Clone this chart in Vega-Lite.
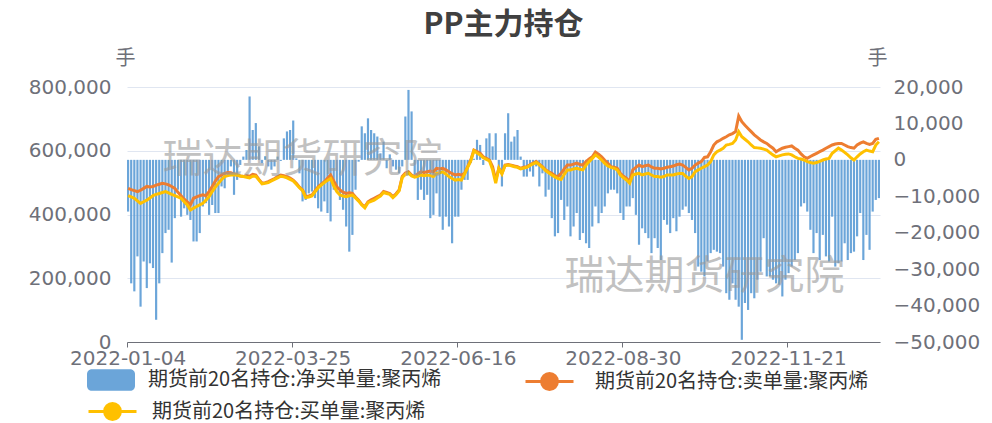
{
"$schema":"https://vega.github.io/schema/vega-lite/v6.json",
"width":753,"height":255,
"autosize":"none",
"padding":{"left":127,"top":87,"right":112,"bottom":81},
"background":"white",
"config":{"view":{"stroke":null},"font":"DejaVu Sans"},
"title":{"text":"PP主力持仓","font":"Noto Sans CJK SC","fontSize":30,"fontWeight":"bold","color":"#404040","anchor":"middle","frame":"group","offset":8},
"data":{"values":[
{"d":"2022-01-04","n":-14200,"s":482000,"b":459000},
{"d":"2022-01-05","n":-33900,"s":478000,"b":455000},
{"d":"2022-01-06","n":-36100,"s":475000,"b":451000},
{"d":"2022-01-07","n":-26500,"s":472000,"b":443000},
{"d":"2022-01-10","n":-40300,"s":476000,"b":435000},
{"d":"2022-01-11","n":-27900,"s":482000,"b":440000},
{"d":"2022-01-12","n":-35200,"s":488000,"b":445000},
{"d":"2022-01-13","n":-28400,"s":486000,"b":452000},
{"d":"2022-01-14","n":-29700,"s":488000,"b":459000},
{"d":"2022-01-17","n":-43900,"s":492000,"b":463000},
{"d":"2022-01-18","n":-33900,"s":495000,"b":466000},
{"d":"2022-01-19","n":-25600,"s":498000,"b":469000},
{"d":"2022-01-20","n":-20100,"s":496000,"b":472000},
{"d":"2022-01-21","n":-19200,"s":493000,"b":468000},
{"d":"2022-01-24","n":-28200,"s":488000,"b":463000},
{"d":"2022-01-25","n":-16000,"s":482000,"b":459000},
{"d":"2022-01-26","n":-8200,"s":470000,"b":455000},
{"d":"2022-01-27","n":-15600,"s":459000,"b":451000},
{"d":"2022-01-28","n":-13300,"s":448000,"b":440000},
{"d":"2022-02-07","n":-15100,"s":440000,"b":430000},
{"d":"2022-02-08","n":-16500,"s":430000,"b":414000},
{"d":"2022-02-09","n":-22400,"s":451000,"b":420000},
{"d":"2022-02-10","n":-22400,"s":455000,"b":425000},
{"d":"2022-02-11","n":-20100,"s":459000,"b":430000},
{"d":"2022-02-14","n":-12800,"s":462000,"b":435000},
{"d":"2022-02-15","n":-11900,"s":459000,"b":445000},
{"d":"2022-02-16","n":-15100,"s":472000,"b":456000},
{"d":"2022-02-17","n":-12400,"s":488000,"b":472000},
{"d":"2022-02-18","n":-14600,"s":505000,"b":486000},
{"d":"2022-02-21","n":-14600,"s":519000,"b":498000},
{"d":"2022-02-22","n":-7300,"s":524000,"b":510000},
{"d":"2022-02-23","n":-7800,"s":529000,"b":519000},
{"d":"2022-02-24","n":-4600,"s":532000,"b":522000},
{"d":"2022-02-25","n":-1800,"s":531000,"b":524000},
{"d":"2022-02-28","n":-9600,"s":527000,"b":525000},
{"d":"2022-03-01","n":-5500,"s":524000,"b":524000},
{"d":"2022-03-02","n":-1400,"s":521000,"b":521000},
{"d":"2022-03-03","n":900,"s":519000,"b":519000},
{"d":"2022-03-04","n":2700,"s":522000,"b":517000},
{"d":"2022-03-07","n":17400,"s":520000,"b":515000},
{"d":"2022-03-08","n":8200,"s":526000,"b":520000},
{"d":"2022-03-09","n":10100,"s":524000,"b":520000},
{"d":"2022-03-10","n":3700,"s":510000,"b":508000},
{"d":"2022-03-11","n":-900,"s":498000,"b":496000},
{"d":"2022-03-14","n":1000,"s":500000,"b":498000},
{"d":"2022-03-15","n":-1800,"s":503000,"b":500000},
{"d":"2022-03-16","n":-2700,"s":508000,"b":505000},
{"d":"2022-03-17","n":-1800,"s":513000,"b":510000},
{"d":"2022-03-18","n":900,"s":519000,"b":515000},
{"d":"2022-03-21","n":-300,"s":524000,"b":520000},
{"d":"2022-03-22","n":5900,"s":522000,"b":518000},
{"d":"2022-03-23","n":7800,"s":519000,"b":515000},
{"d":"2022-03-24","n":8200,"s":514000,"b":510000},
{"d":"2022-03-25","n":10800,"s":508000,"b":505000},
{"d":"2022-03-28","n":400,"s":498000,"b":495000},
{"d":"2022-03-29","n":-3700,"s":486000,"b":484000},
{"d":"2022-03-30","n":-11400,"s":477000,"b":475000},
{"d":"2022-03-31","n":-11000,"s":456000,"b":453000},
{"d":"2022-04-01","n":-9200,"s":458000,"b":455000},
{"d":"2022-04-06","n":-8700,"s":461000,"b":458000},
{"d":"2022-04-07","n":-10500,"s":474000,"b":471000},
{"d":"2022-04-08","n":-13300,"s":487000,"b":484000},
{"d":"2022-04-11","n":-14200,"s":495000,"b":492000},
{"d":"2022-04-12","n":-11400,"s":503000,"b":500000},
{"d":"2022-04-13","n":-14600,"s":514000,"b":507000},
{"d":"2022-04-14","n":-16900,"s":524000,"b":513000},
{"d":"2022-04-15","n":-8200,"s":505000,"b":490000},
{"d":"2022-04-18","n":-8200,"s":487000,"b":472000},
{"d":"2022-04-19","n":-11000,"s":477000,"b":461000},
{"d":"2022-04-20","n":-13700,"s":470000,"b":458000},
{"d":"2022-04-21","n":-18300,"s":466000,"b":456000},
{"d":"2022-04-22","n":-25200,"s":468000,"b":459000},
{"d":"2022-04-25","n":-20600,"s":466000,"b":461000},
{"d":"2022-04-26","n":-8200,"s":455000,"b":452000},
{"d":"2022-04-27","n":-500,"s":445000,"b":442000},
{"d":"2022-04-28","n":9200,"s":432000,"b":430000},
{"d":"2022-04-29","n":7300,"s":424000,"b":421000},
{"d":"2022-05-05","n":11400,"s":440000,"b":437000},
{"d":"2022-05-06","n":8200,"s":446000,"b":441000},
{"d":"2022-05-09","n":7300,"s":451000,"b":445000},
{"d":"2022-05-10","n":6400,"s":456000,"b":452000},
{"d":"2022-05-11","n":1800,"s":461000,"b":458000},
{"d":"2022-05-12","n":5000,"s":472000,"b":469000},
{"d":"2022-05-13","n":-2300,"s":469000,"b":466000},
{"d":"2022-05-16","n":1500,"s":466000,"b":463000},
{"d":"2022-05-17","n":-1800,"s":456000,"b":453000},
{"d":"2022-05-18","n":-2700,"s":465000,"b":462000},
{"d":"2022-05-19","n":-3700,"s":477000,"b":474000},
{"d":"2022-05-20","n":-1800,"s":519000,"b":516000},
{"d":"2022-05-23","n":11900,"s":530000,"b":526000},
{"d":"2022-05-24","n":19200,"s":534000,"b":530000},
{"d":"2022-05-25","n":13300,"s":524000,"b":521000},
{"d":"2022-05-26","n":-4100,"s":519000,"b":517000},
{"d":"2022-05-27","n":-11000,"s":527000,"b":520000},
{"d":"2022-05-30","n":-8200,"s":534000,"b":524000},
{"d":"2022-05-31","n":-11000,"s":532000,"b":522000},
{"d":"2022-06-01","n":-9600,"s":534000,"b":524000},
{"d":"2022-06-02","n":-16000,"s":536000,"b":522000},
{"d":"2022-06-06","n":-15100,"s":534000,"b":519000},
{"d":"2022-06-07","n":-9200,"s":545000,"b":529000},
{"d":"2022-06-08","n":-15600,"s":543000,"b":531000},
{"d":"2022-06-09","n":-19200,"s":545000,"b":534000},
{"d":"2022-06-10","n":-15600,"s":540000,"b":527000},
{"d":"2022-06-13","n":-18300,"s":534000,"b":519000},
{"d":"2022-06-14","n":-22900,"s":528000,"b":513000},
{"d":"2022-06-15","n":-15600,"s":524000,"b":508000},
{"d":"2022-06-16","n":-15600,"s":526000,"b":510000},
{"d":"2022-06-17","n":-8200,"s":524000,"b":508000},
{"d":"2022-06-20","n":-5500,"s":529000,"b":527000},
{"d":"2022-06-21","n":-5500,"s":550000,"b":548000},
{"d":"2022-06-22","n":-900,"s":571000,"b":568000},
{"d":"2022-06-23","n":300,"s":602000,"b":600000},
{"d":"2022-06-24","n":5500,"s":597000,"b":593000},
{"d":"2022-06-27","n":4100,"s":592000,"b":587000},
{"d":"2022-06-28","n":-1400,"s":581000,"b":578000},
{"d":"2022-06-29","n":5900,"s":576000,"b":573000},
{"d":"2022-06-30","n":7300,"s":571000,"b":568000},
{"d":"2022-07-01","n":3700,"s":550000,"b":540000},
{"d":"2022-07-04","n":7300,"s":508000,"b":498000},
{"d":"2022-07-05","n":-2700,"s":545000,"b":545000},
{"d":"2022-07-06","n":-7300,"s":529000,"b":527000},
{"d":"2022-07-07","n":7300,"s":555000,"b":553000},
{"d":"2022-07-08","n":12800,"s":557000,"b":555000},
{"d":"2022-07-11","n":5000,"s":555000,"b":553000},
{"d":"2022-07-12","n":6400,"s":552000,"b":550000},
{"d":"2022-07-13","n":8200,"s":550000,"b":548000},
{"d":"2022-07-14","n":900,"s":545000,"b":543000},
{"d":"2022-07-15","n":-4600,"s":548000,"b":546000},
{"d":"2022-07-18","n":-4600,"s":550000,"b":548000},
{"d":"2022-07-19","n":-3200,"s":556000,"b":554000},
{"d":"2022-07-20","n":-4600,"s":561000,"b":559000},
{"d":"2022-07-21","n":-1800,"s":566000,"b":563000},
{"d":"2022-07-22","n":-7300,"s":558000,"b":556000},
{"d":"2022-07-25","n":-3700,"s":550000,"b":548000},
{"d":"2022-07-26","n":-10100,"s":540000,"b":538000},
{"d":"2022-07-27","n":-8200,"s":534000,"b":531000},
{"d":"2022-07-28","n":-16000,"s":529000,"b":524000},
{"d":"2022-07-29","n":-21000,"s":522000,"b":518000},
{"d":"2022-08-01","n":-20100,"s":519000,"b":513000},
{"d":"2022-08-02","n":-11000,"s":529000,"b":510000},
{"d":"2022-08-03","n":-16500,"s":543000,"b":526000},
{"d":"2022-08-04","n":-12800,"s":555000,"b":540000},
{"d":"2022-08-05","n":-21000,"s":555000,"b":540000},
{"d":"2022-08-08","n":-18300,"s":558000,"b":543000},
{"d":"2022-08-09","n":-14600,"s":561000,"b":545000},
{"d":"2022-08-10","n":-22000,"s":557000,"b":542000},
{"d":"2022-08-11","n":-20100,"s":555000,"b":540000},
{"d":"2022-08-12","n":-22900,"s":566000,"b":555000},
{"d":"2022-08-15","n":-24200,"s":574000,"b":566000},
{"d":"2022-08-16","n":-18300,"s":581000,"b":576000},
{"d":"2022-08-17","n":-12800,"s":596000,"b":587000},
{"d":"2022-08-18","n":-17400,"s":589000,"b":580000},
{"d":"2022-08-19","n":-14600,"s":581000,"b":571000},
{"d":"2022-08-22","n":-12800,"s":570000,"b":560000},
{"d":"2022-08-23","n":-9200,"s":561000,"b":552000},
{"d":"2022-08-24","n":-8200,"s":550000,"b":548000},
{"d":"2022-08-25","n":-8200,"s":548000,"b":545000},
{"d":"2022-08-26","n":-9200,"s":545000,"b":540000},
{"d":"2022-08-29","n":-14600,"s":529000,"b":524000},
{"d":"2022-08-30","n":-16500,"s":520000,"b":515000},
{"d":"2022-08-31","n":-12800,"s":513000,"b":508000},
{"d":"2022-09-01","n":-12800,"s":503000,"b":498000},
{"d":"2022-09-02","n":-10500,"s":540000,"b":524000},
{"d":"2022-09-05","n":-15100,"s":548000,"b":527000},
{"d":"2022-09-06","n":-23300,"s":555000,"b":529000},
{"d":"2022-09-07","n":-18800,"s":550000,"b":524000},
{"d":"2022-09-08","n":-20100,"s":553000,"b":527000},
{"d":"2022-09-09","n":-21500,"s":555000,"b":529000},
{"d":"2022-09-13","n":-25600,"s":549000,"b":524000},
{"d":"2022-09-14","n":-21500,"s":545000,"b":519000},
{"d":"2022-09-15","n":-24200,"s":545000,"b":519000},
{"d":"2022-09-16","n":-27500,"s":543000,"b":517000},
{"d":"2022-09-19","n":-16500,"s":545000,"b":519000},
{"d":"2022-09-20","n":-17800,"s":548000,"b":524000},
{"d":"2022-09-21","n":-20100,"s":550000,"b":524000},
{"d":"2022-09-22","n":-16000,"s":552000,"b":524000},
{"d":"2022-09-23","n":-19600,"s":556000,"b":527000},
{"d":"2022-09-26","n":-15600,"s":558000,"b":529000},
{"d":"2022-09-27","n":-13700,"s":555000,"b":529000},
{"d":"2022-09-28","n":-12800,"s":548000,"b":520000},
{"d":"2022-09-29","n":-14600,"s":540000,"b":513000},
{"d":"2022-09-30","n":-16500,"s":545000,"b":519000},
{"d":"2022-10-10","n":-20100,"s":555000,"b":534000},
{"d":"2022-10-11","n":-29300,"s":561000,"b":540000},
{"d":"2022-10-12","n":-30700,"s":566000,"b":545000},
{"d":"2022-10-13","n":-32000,"s":579000,"b":550000},
{"d":"2022-10-14","n":-27900,"s":581000,"b":555000},
{"d":"2022-10-17","n":-25600,"s":597000,"b":566000},
{"d":"2022-10-18","n":-24700,"s":618000,"b":587000},
{"d":"2022-10-19","n":-25200,"s":628000,"b":597000},
{"d":"2022-10-20","n":-25600,"s":633000,"b":602000},
{"d":"2022-10-21","n":-29300,"s":639000,"b":608000},
{"d":"2022-10-24","n":-36600,"s":644000,"b":618000},
{"d":"2022-10-25","n":-38400,"s":650000,"b":620000},
{"d":"2022-10-26","n":-33900,"s":654000,"b":623000},
{"d":"2022-10-27","n":-38400,"s":660000,"b":634000},
{"d":"2022-10-28","n":-40300,"s":709000,"b":660000},
{"d":"2022-10-31","n":-49400,"s":691000,"b":644000},
{"d":"2022-11-01","n":-39300,"s":680000,"b":636000},
{"d":"2022-11-02","n":-41200,"s":670000,"b":628000},
{"d":"2022-11-03","n":-36600,"s":660000,"b":618000},
{"d":"2022-11-04","n":-38000,"s":650000,"b":610000},
{"d":"2022-11-07","n":-32900,"s":642000,"b":609000},
{"d":"2022-11-08","n":-30700,"s":634000,"b":608000},
{"d":"2022-11-09","n":-21500,"s":628000,"b":605000},
{"d":"2022-11-10","n":-32000,"s":623000,"b":602000},
{"d":"2022-11-11","n":-32000,"s":615000,"b":594000},
{"d":"2022-11-14","n":-32900,"s":608000,"b":587000},
{"d":"2022-11-15","n":-33900,"s":597000,"b":581000},
{"d":"2022-11-16","n":-34300,"s":603000,"b":584000},
{"d":"2022-11-17","n":-37500,"s":608000,"b":587000},
{"d":"2022-11-18","n":-32900,"s":611000,"b":589000},
{"d":"2022-11-21","n":-31100,"s":613000,"b":590000},
{"d":"2022-11-22","n":-29300,"s":615000,"b":587000},
{"d":"2022-11-23","n":-27500,"s":608000,"b":581000},
{"d":"2022-11-24","n":-25600,"s":602000,"b":576000},
{"d":"2022-11-25","n":-12800,"s":590000,"b":574000},
{"d":"2022-11-28","n":-11900,"s":581000,"b":571000},
{"d":"2022-11-29","n":-14200,"s":576000,"b":566000},
{"d":"2022-11-30","n":-19200,"s":582000,"b":563000},
{"d":"2022-12-01","n":-25600,"s":587000,"b":561000},
{"d":"2022-12-02","n":-20100,"s":592000,"b":563000},
{"d":"2022-12-05","n":-27500,"s":597000,"b":567000},
{"d":"2022-12-06","n":-20600,"s":602000,"b":571000},
{"d":"2022-12-07","n":-26500,"s":608000,"b":574000},
{"d":"2022-12-08","n":-27900,"s":613000,"b":576000},
{"d":"2022-12-09","n":-15600,"s":618000,"b":592000},
{"d":"2022-12-12","n":-29300,"s":621000,"b":600000},
{"d":"2022-12-13","n":-28400,"s":623000,"b":608000},
{"d":"2022-12-14","n":-27900,"s":623000,"b":602000},
{"d":"2022-12-15","n":-22900,"s":618000,"b":595000},
{"d":"2022-12-16","n":-27500,"s":613000,"b":587000},
{"d":"2022-12-19","n":-25600,"s":610000,"b":578000},
{"d":"2022-12-20","n":-25200,"s":608000,"b":571000},
{"d":"2022-12-21","n":-21000,"s":618000,"b":581000},
{"d":"2022-12-22","n":-14600,"s":624000,"b":590000},
{"d":"2022-12-23","n":-27500,"s":628000,"b":597000},
{"d":"2022-12-26","n":-20600,"s":623000,"b":602000},
{"d":"2022-12-27","n":-24700,"s":620000,"b":599000},
{"d":"2022-12-28","n":-14200,"s":623000,"b":597000},
{"d":"2022-12-29","n":-11000,"s":636000,"b":618000},
{"d":"2022-12-30","n":-10500,"s":639000,"b":628000}
]},
"layer":[
{"mark":{"type":"bar","opacity":0.9},
 "encoding":{
  "x":{"field":"d","type":"ordinal","scale":{"paddingInner":0.3,"paddingOuter":0},
       "axis":{"values":["2022-01-04","2022-03-25","2022-06-16","2022-08-30","2022-11-21"],"bandPosition":0,"labelAngle":0,"title":null,"labelFontSize":20,"labelColor":"#6e7079","domainColor":"#6e7079","tickColor":"#6e7079","tickSize":5,"labelPadding":1,"grid":false}},
  "y":{"field":"n","type":"quantitative","scale":{"domain":[-50000,20000],"nice":false,"zero":true},
       "axis":{"orient":"right","values":[-50000,-40000,-30000,-20000,-10000,0,10000,20000],"format":",.0f","title":"手","titleAngle":0,"titleX":-3,"titleY":-29,"titleAlign":"center","titleBaseline":"middle","titleFont":"Noto Sans CJK SC","titleFontSize":20,"titleFontWeight":"normal","titleColor":"#6e7079","labelFontSize":20,"labelColor":"#6e7079","labelPadding":13,"ticks":false,"domain":false,"grid":false}},
  "fill":{"datum":"期货前20名持仓:净买单量:聚丙烯","scale":{"range":["#5B9BD5"]},
     "legend":{"orient":"none","legendX":-40,"legendY":269,"title":null,"padding":0,"labelFont":"Noto Sans CJK SC","labelFontSize":20,"labelColor":"#333333","labelLimit":800,"labelOffset":13,"symbolSize":2304,"symbolStrokeWidth":0,"symbolOpacity":0.9,
       "symbolType":"M-0.8,-0.45H0.8A0.2,0.2 0 0 1 1,-0.25V0.25A0.2,0.2 0 0 1 0.8,0.45H-0.8A0.2,0.2 0 0 1 -1,0.25V-0.25A0.2,0.2 0 0 1 -0.8,-0.45Z"}}
 }},
{"layer":[
 {"mark":{"type":"line","strokeWidth":3},
  "encoding":{
   "x":{"field":"d","type":"ordinal"},
   "y":{"field":"s","type":"quantitative","scale":{"domain":[0,800000],"nice":false},
        "axis":{"orient":"left","values":[0,100000,200000,300000,400000,500000,600000,700000,800000],"format":",.0f","title":"手","titleAngle":0,"titleX":-2,"titleY":-29,"titleAlign":"center","titleBaseline":"middle","titleFont":"Noto Sans CJK SC","titleFontSize":20,"titleFontWeight":"normal","titleColor":"#6e7079","labelFontSize":20,"labelColor":"#6e7079","labelPadding":16,"ticks":false,"domain":false,"grid":true,"gridColor":"#e0e6f1","gridWidth":1}},
   "stroke":{"datum":"期货前20名持仓:卖单量:聚丙烯","scale":{"range":["#ED7D31"]},
     "legend":{"orient":"none","legendX":397,"legendY":269,"title":null,"padding":0,"labelFont":"Noto Sans CJK SC","labelFontSize":20,"labelColor":"#333333","labelLimit":800,"labelOffset":20,"symbolSize":2304,"symbolStrokeWidth":3,
       "symbolType":"M-1,0H1M0.33,0A0.33,0.33 0 1,1 -0.33,0A0.33,0.33 0 1,1 0.33,0M0.22,0A0.22,0.22 0 1,1 -0.22,0A0.22,0.22 0 1,1 0.22,0M0.11,0A0.11,0.11 0 1,1 -0.11,0A0.11,0.11 0 1,1 0.11,0M0.04,0A0.04,0.04 0 1,1 -0.04,0A0.04,0.04 0 1,1 0.04,0"}}
  }},
 {"mark":{"type":"line","strokeWidth":3},
  "encoding":{
   "x":{"field":"d","type":"ordinal"},
   "y":{"field":"b","type":"quantitative","scale":{"domain":[0,800000],"nice":false},
        "axis":{"orient":"left","values":[0,100000,200000,300000,400000,500000,600000,700000,800000],"format":",.0f","title":"手","titleAngle":0,"titleX":-2,"titleY":-29,"titleAlign":"center","titleBaseline":"middle","titleFont":"Noto Sans CJK SC","titleFontSize":20,"titleFontWeight":"normal","titleColor":"#6e7079","labelFontSize":20,"labelColor":"#6e7079","labelPadding":16,"ticks":false,"domain":false,"grid":true,"gridColor":"#e0e6f1","gridWidth":1}},
   "color":{"datum":"期货前20名持仓:买单量:聚丙烯","scale":{"range":["#FFC000"]},
     "legend":{"orient":"none","legendX":-40,"legendY":299,"title":null,"padding":0,"labelFont":"Noto Sans CJK SC","labelFontSize":20,"labelColor":"#333333","labelLimit":800,"labelOffset":14,"symbolSize":2304,"symbolStrokeWidth":3,
       "symbolType":"M-1,0H1M0.33,0A0.33,0.33 0 1,1 -0.33,0A0.33,0.33 0 1,1 0.33,0M0.22,0A0.22,0.22 0 1,1 -0.22,0A0.22,0.22 0 1,1 0.22,0M0.11,0A0.11,0.11 0 1,1 -0.11,0A0.11,0.11 0 1,1 0.11,0M0.04,0A0.04,0.04 0 1,1 -0.04,0A0.04,0.04 0 1,1 0.04,0"}}
  }},
 {"data":{"values":[{"t":"瑞达期货研究院"}]},
  "mark":{"type":"text","font":"Noto Sans CJK SC","fontSize":40,"color":"#999999","opacity":0.6,"align":"center","baseline":"middle"},
  "encoding":{"x":{"datum":"2022-03-30","type":"ordinal"},"y":{"datum":570000,"type":"quantitative"},"text":{"field":"t"}}},
 {"data":{"values":[{"t":"瑞达期货研究院"}]},
  "mark":{"type":"text","font":"Noto Sans CJK SC","fontSize":40,"color":"#999999","opacity":0.6,"align":"center","baseline":"middle"},
  "encoding":{"x":{"datum":"2022-10-13","type":"ordinal"},"y":{"datum":205000,"type":"quantitative"},"text":{"field":"t"}}}
]}
],
"resolve":{"scale":{"y":"independent"}}
}
